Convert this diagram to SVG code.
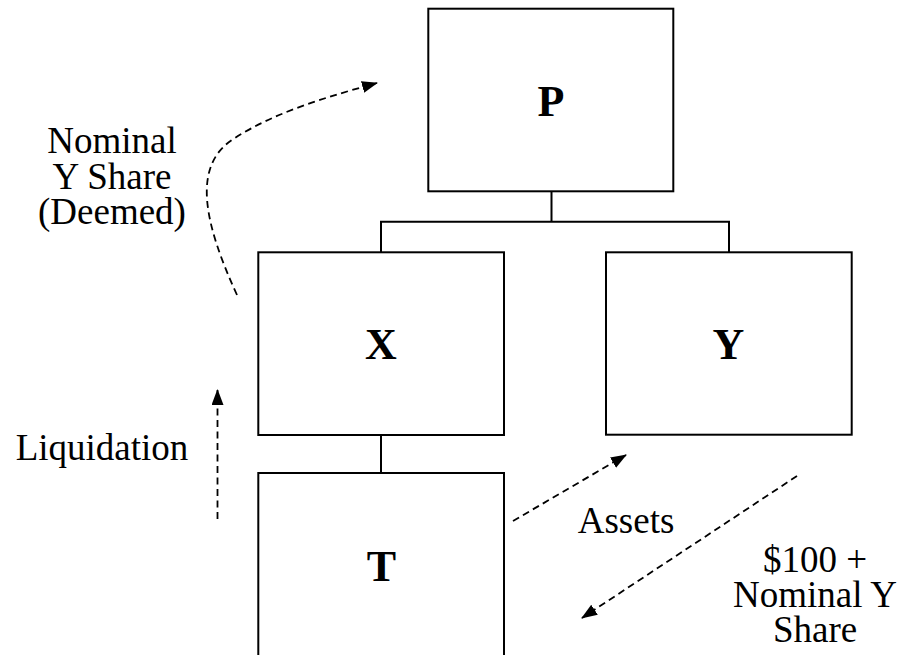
<svg xmlns="http://www.w3.org/2000/svg" width="901" height="655" viewBox="0 0 901 655">
<style>
.box{fill:#fff;stroke:#000;stroke-width:2}
.lbl{font-family:"Liberation Serif","Times New Roman",serif;font-weight:bold;font-size:44px;text-anchor:middle;fill:#000}
.txt{font-family:"Liberation Serif","Times New Roman",serif;font-size:37px;text-anchor:middle;fill:#000}
.tree{fill:none;stroke:#000;stroke-width:2}
.dash{fill:none;stroke:#000;stroke-width:1.8;stroke-dasharray:7 4.5;marker-end:url(#ah)}
</style>
<defs>
<marker id="ah" markerUnits="userSpaceOnUse" markerWidth="18" markerHeight="14" refX="15" refY="6" orient="auto">
<path d="M0,0 L16,6 L0,12 Z" fill="#000"/>
</marker>
</defs>
<rect width="901" height="655" fill="#fff"/>
<g id="connectors">
<path class="tree" d="M551.5,191 V221.7 M381,252 V221.7 H729 V252"/>
<path class="tree" d="M381,435 V473"/>
<path class="dash" d="M237,295 C205,225 190,165 235,138 C275,112 330,96 377,83"/>
<path class="dash" d="M217.5,519 V390"/>
<path class="dash" d="M513,521 L626,455"/>
<path class="dash" d="M797,476 L582,618"/>
</g>
<g id="node-P">
<rect class="box" x="428.3" y="8.7" width="245" height="182.6"/>
<text class="lbl" x="551" y="116">P</text>
</g>
<g id="node-X">
<rect class="box" x="258.3" y="252.3" width="245.7" height="182.7"/>
<text class="lbl" x="381" y="359">X</text>
</g>
<g id="node-Y">
<rect class="box" x="606" y="252.3" width="245.7" height="182.4"/>
<text class="lbl" x="728.5" y="359">Y</text>
</g>
<g id="node-T">
<rect class="box" x="258.3" y="473" width="245.7" height="200"/>
<text class="lbl" x="381.5" y="581">T</text>
</g>
<g id="labels">
<text class="txt"><tspan x="112" y="153">Nominal</tspan><tspan x="112" y="188.5">Y Share</tspan><tspan x="112" y="224">(Deemed)</tspan></text>
<text class="txt" x="102" y="460">Liquidation</text>
<text class="txt" x="626" y="533">Assets</text>
<text class="txt"><tspan x="815" y="572">$100 +</tspan><tspan x="815" y="607">Nominal Y</tspan><tspan x="815" y="642">Share</tspan></text>
</g>
</svg>
